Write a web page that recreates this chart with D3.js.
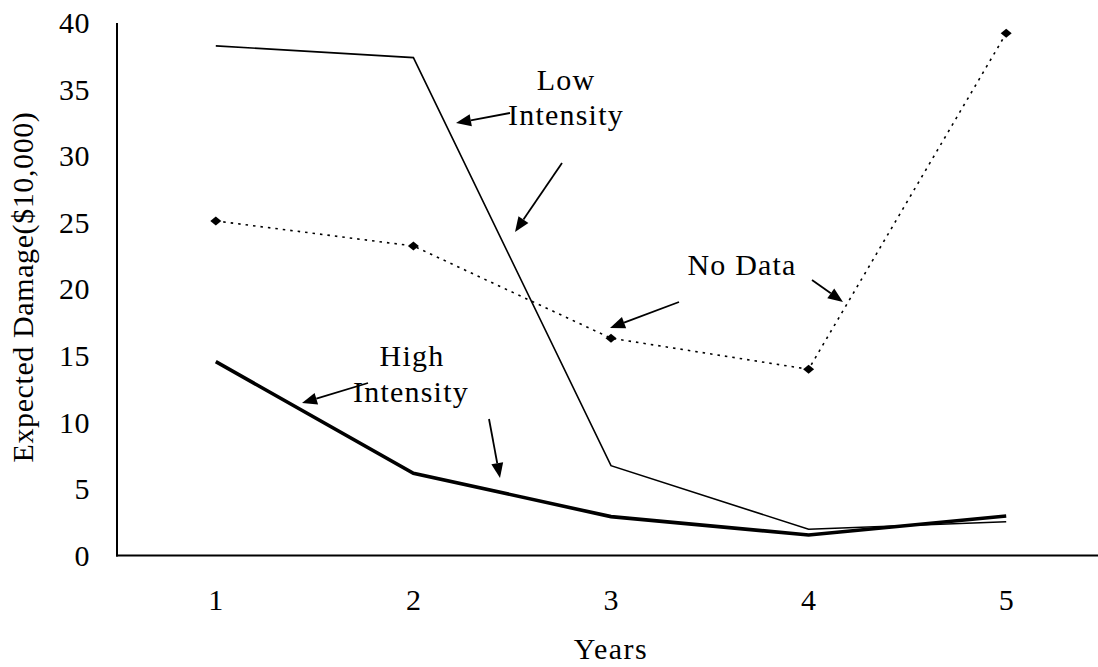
<!DOCTYPE html>
<html><head><meta charset="utf-8">
<script src="https://cdn.jsdelivr.net/npm/d3@7"></script>
<style>
html,body{margin:0;padding:0;background:#fff;}
svg text{font-family:"Liberation Serif","Times New Roman",serif;fill:#000;}
</style></head>
<body>
<svg id="chart" width="1098" height="667"></svg>
<script>
const years = [1, 2, 3, 4, 5];
const yTicks = [0, 5, 10, 15, 20, 25, 30, 35, 40];
const lowIntensity = [38.28, 37.4, 6.75, 1.97, 2.54];
const highIntensity = [14.56, 6.18, 2.92, 1.54, 2.97];
const noData = [25.13, 23.25, 16.32, 13.99, 39.23];
const xTitle = "Years";
const yTitle = "Expected Damage($10,000)";

const svg = d3.select("#chart");
const x = d3.scalePoint().domain(years).range([117, 1105]).padding(0.5);
const y = d3.scaleLinear().domain([0, 40]).range([555.5, 23]);

// axes
svg.append("line").attr("x1", 117).attr("x2", 117).attr("y1", y(40)).attr("y2", y(0) + 1)
  .attr("stroke", "#000").attr("stroke-width", 2);
svg.append("line").attr("x1", 116).attr("x2", 1098).attr("y1", y(0)).attr("y2", y(0))
  .attr("stroke", "#000").attr("stroke-width", 2);

svg.selectAll(".ytl").data(yTicks).enter().append("text")
  .attr("x", 90).attr("y", d => y(d)).attr("dy", "0.34em")
  .attr("text-anchor", "end").attr("font-size", 30).attr("letter-spacing", 0.5).text(d => d);
svg.selectAll(".xtl").data(years).enter().append("text")
  .attr("x", d => x(d)).attr("y", 610)
  .attr("text-anchor", "middle").attr("font-size", 30).text(d => d);

svg.append("text").attr("x", 611).attr("y", 659).attr("text-anchor", "middle")
  .attr("font-size", 30).attr("letter-spacing", 1.5).text(xTitle);
svg.append("text").attr("transform", "translate(33,287) rotate(-90)")
  .attr("text-anchor", "middle").attr("font-size", 30).attr("letter-spacing", 0.6).text(yTitle);

const line = d3.line().x((d, i) => x(years[i])).y(d => y(d));
svg.append("path").datum(lowIntensity).attr("d", line)
  .attr("fill", "none").attr("stroke", "#000").attr("stroke-width", 1.6);
svg.append("path").datum(highIntensity).attr("d", line)
  .attr("fill", "none").attr("stroke", "#000").attr("stroke-width", 3.6);
svg.append("path").datum(noData).attr("d", line)
  .attr("fill", "none").attr("stroke", "#000").attr("stroke-width", 1.6)
  .attr("stroke-dasharray", "2.5,5");
svg.selectAll(".nd").data(noData).enter().append("path")
  .attr("d", "M-5.5,0 L0,-4.5 L5.5,0 L0,4.5 Z")
  .attr("transform", (d, i) => `translate(${x(years[i])},${y(d)})`)
  .attr("fill", "#000");

const labels = [
  {t: "Low", x: 566, y: 90}, {t: "Intensity", x: 566, y: 125},
  {t: "High", x: 412, y: 366}, {t: "Intensity", x: 411, y: 402},
  {t: "No Data", x: 742, y: 275}
];
svg.selectAll(".ann").data(labels).enter().append("text")
  .attr("x", d => d.x).attr("y", d => d.y).attr("text-anchor", "middle")
  .attr("font-size", 30).attr("letter-spacing", 1.2).text(d => d.t);

const arrows = [
  [510, 113, 456, 123], [562, 163, 515, 232],
  [368, 383, 302, 403], [489, 419, 500, 478],
  [679, 302, 610, 328], [812, 280, 843, 302]
];
const ahead = 15, hw = 6;
arrows.forEach(([x1, y1, x2, y2]) => {
  const dx = x2 - x1, dy = y2 - y1, L = Math.hypot(dx, dy);
  const ux = dx / L, uy = dy / L;
  const bx = x2 - ux * ahead, by = y2 - uy * ahead;
  svg.append("line").attr("x1", x1).attr("y1", y1).attr("x2", bx).attr("y2", by)
    .attr("stroke", "#000").attr("stroke-width", 1.8);
  svg.append("path").attr("d", `M${x2},${y2} L${bx - uy * hw},${by + ux * hw} L${bx + uy * hw},${by - ux * hw} Z`)
    .attr("fill", "#000");
});
</script>
</body></html>
